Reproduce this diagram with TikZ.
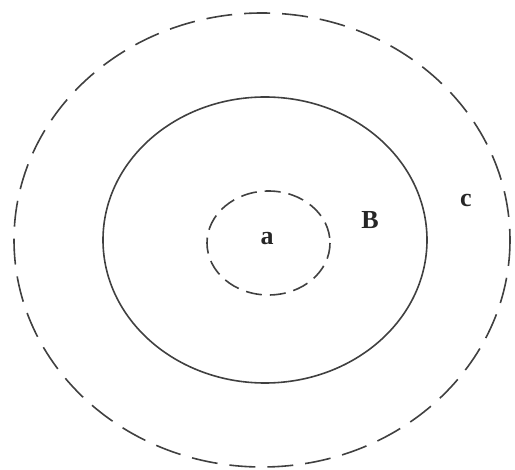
\documentclass[tikz,border=0pt]{standalone}
\usepackage{fontspec}
\setmainfont{Liberation Serif}
\begin{document}
\begin{tikzpicture}[x=1pt,y=-1pt,
  ring/.style={draw=black!75, line width=1.6pt},
  outerdash/.style={ring, dash pattern=on 26pt off 12pt},
  innerdash/.style={ring, dash pattern=on 16pt off 8pt},
  lbl/.style={font=\fontsize{26}{26}\selectfont\bfseries, text=black!85, inner sep=0pt}]
\useasboundingbox (0,0) rectangle (515,470);
\draw[outerdash] (262,240) ellipse [x radius=248, y radius=227];
\draw[ring] (265,240) ellipse [x radius=162, y radius=143];
\draw[innerdash] (268.5,243) ellipse [x radius=61.5, y radius=52];
\node[lbl] (a) at (267,239) {a};
\node[lbl] (B) at (370,220) {B};
\node[lbl] (c) at (466,200) {c};
\end{tikzpicture}
\end{document}
